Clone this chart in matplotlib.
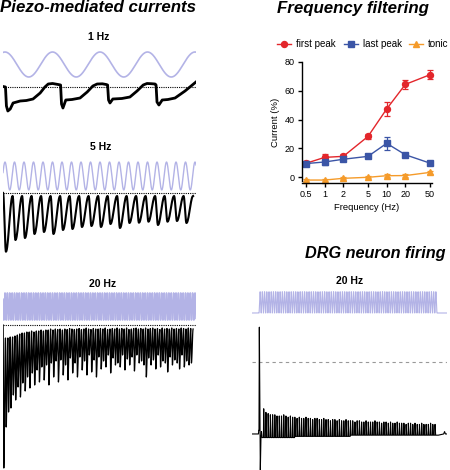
import numpy as np
import matplotlib
matplotlib.use("Agg")
import matplotlib.pyplot as plt
from matplotlib.lines import Line2D

plt.rcParams['font.family'] = ['Liberation Sans', 'DejaVu Sans']

# ---------------- data ----------------
freqs = [0.5, 1, 2, 5, 10, 20, 50]
freq_labels = ['0.5', '1', '2', '5', '10', '20', '50']
first_peak = [9.7, 13.8, 14.5, 28.3, 47.3, 64.3, 71.0]
first_peak_err = [1.5, 2.3, 1.5, 1.8, 5.0, 3.3, 3.0]
last_peak = [9.5, 10.6, 12.5, 14.5, 23.5, 15.6, 9.8]
last_peak_err = [1.5, 2.0, 1.5, 1.0, 4.3, 1.5, 1.0]
tonic = [-1.9, -1.9, -0.7, 0.0, 1.1, 1.2, 3.4]
tonic_err = [0.8, 0.8, 0.8, 0.8, 1.0, 1.0, 1.0]

# 1 Hz current trace (time s, current pA)
hz1_t = [-0.04, 0.01, 0.03, 0.06, 0.11, 0.17, 0.32, 0.45, 0.59, 0.74, 0.84, 0.91,
         1.00, 1.12, 1.17, 1.19, 1.22, 1.28, 1.41, 1.58, 1.73, 1.85, 1.94, 2.05,
         2.13, 2.16, 2.18, 2.21, 2.27, 2.46, 2.63, 2.78, 2.91, 2.99, 3.08, 3.16,
         3.18, 3.20, 3.24, 3.31, 3.43, 3.58, 3.79, 4.02]
hz1_i = [5, 0, -190, -240, -220, -160, -140, -135, -120, -60, 0, 30,
         35, 25, 20, -170, -210, -130, -125, -110, -50, 10, 30, 32,
         25, 20, -130, -160, -120, -115, -100, -40, 20, 35, 33, 30,
         20, -150, -180, -130, -125, -110, -40, 50]

# 5 Hz: per-cycle trough currents (pA)
hz5_min = [-587, -470, -450, -410, -390, -410, -370, -360, -340, -330,
           -340, -310, -350, -300, -297, -287, -320, -287, -280, -300]
hz5_top = [0] + [-30] * 20

# 20 Hz: per-cycle trough and peak currents (pA)
hz20_min = [-1430, -1020, -870, -830, -700, -750, -620, -720, -580, -660,
            -520, -630, -480, -600, -450, -570, -420, -550, -400, -600,
            -380, -520, -360, -570, -350, -500, -400, -550, -330, -480,
            -380, -520, -320, -450, -360, -500, -300, -470, -350, -520,
            -320, -440, -360, -420, -300, -480, -330, -400, -380, -420,
            -300, -450, -340, -400, -320, -460, -300, -380, -360, -400,
            -520, -330, -400, -350, -440, -300, -420, -360, -380, -470,
            -320, -400, -350, -380, -440, -300, -420, -360, -400, -380]
hz20_top = [0, -130, -130, -120, -120, -110, -100, -90, -80, -80, -70,
            -70, -60, -70, -60, -60, -50, -60, -50, -50, -40,
            -50, -40, -45, -40, -50, -40, -45, -35, -40, -45,
            -40, -35, -45, -40, -30, -40, -45, -35, -40, -40,
            -35, -40, -30, -45, -40, -35, -40, -30, -40, -35,
            -40, -30, -45, -40, -35, -30, -40, -35, -40, -30,
            -40, -35, -30, -40, -35, -45, -30, -40, -35, -40,
            -30, -40, -35, -40, -30, -35, -40, -30, -35, -40]

# DRG membrane potential (mV)
drg_rest = -60
drg_ap_peak = 29
drg_ahp = -90
drg_peaks = [-58, -39, -42, -43, -44, -44, -44, -45, -45, -45, -44, -45, -46, -45, -46,
             -46, -47, -46, -47, -47, -46, -47, -47, -48, -47, -47, -48, -48, -47,
             -48, -48, -49, -48, -48, -49, -48, -49, -49, -48, -49, -49, -49, -50,
             -49, -49, -50, -50, -49, -50, -50, -50, -49, -50, -50, -51, -50, -50,
             -51, -50, -51, -51, -50, -51, -51, -51, -52, -51, -51, -52, -51, -52,
             -52, -51, -52, -52, -52, -51, -52, -52, -53]
drg_troughs = [-62] + [-63] * 15 + [-62] * 25 + [-61] * 39

# ---------------- layout helpers ----------------
W, H = 450, 470
fig = plt.figure(figsize=(4.5, 4.7), dpi=100)


def px_axes(x0, y0, x1, y1):
    return fig.add_axes([x0 / W, 1 - y1 / H, (x1 - x0) / W, (y1 - y0) / H])


def blank(ax):
    ax.set_axis_off()


def cycle_wave(t_tops, tops, mins, frac_down, n=16):
    ts, vs = [], []
    s = np.linspace(0, 1, n, endpoint=False)
    e = (1 - np.cos(np.pi * s)) / 2
    for k in range(len(mins)):
        t0, t1 = t_tops[k], t_tops[k + 1]
        tm = t0 + frac_down * (t1 - t0)
        ts.append(t0 + (tm - t0) * s)
        vs.append(tops[k] + (mins[k] - tops[k]) * e)
        ts.append(tm + (t1 - tm) * s)
        vs.append(mins[k] + (tops[k + 1] - mins[k]) * e)
    ts.append([t_tops[-1]])
    vs.append([tops[-1]])
    return np.concatenate(ts), np.concatenate(vs)


STIM = '#b3b3e6'
T0, T1 = -0.042, 4.021   # left traces time window
LX0, LX1 = 3, 196


def stim_axes(y0, y1, freq, lw):
    ax = px_axes(LX0, y0, LX1, y1)
    t = np.linspace(T0, T1, 8000)
    ax.plot(t, np.cos(2 * np.pi * freq * t), color=STIM, lw=lw)
    ax.set_xlim(T0, T1)
    return ax


# ---------------- left: 1 Hz ----------------
fig.text(99 / W, 1 - 37 / H, '1 Hz', ha='center', va='center', fontsize=7.5, fontweight='bold')
a = stim_axes(48, 80, 1, 1.2)
a.set_ylim(-1.24, 1.32)
blank(a)
a = px_axes(LX0, 78, LX1, 116)
a.axhline(0, color='black', lw=0.8, ls=(0, (1, 1)))
a.plot(hz1_t, hz1_i, color='black', lw=2.0, solid_joinstyle='round')
a.set_xlim(T0, T1)
a.set_ylim(-290, 90)
blank(a)

# ---------------- left: 5 Hz ----------------
fig.text(101 / W, 1 - 147 / H, '5 Hz', ha='center', va='center', fontsize=7.5, fontweight='bold')
a = stim_axes(158, 194, 5, 1.0)
a.set_ylim(-1.29, 1.29)
blank(a)
a = px_axes(LX0, 186, LX1, 256)
a.axhline(0, color='black', lw=0.8, ls=(0, (1, 1)))
tt = [-0.04 + 0.2 * k for k in range(len(hz5_min) + 1)]
t5, v5 = cycle_wave(tt, hz5_top, hz5_min, 0.3)
a.plot(t5, v5, color='black', lw=1.5)
a.set_xlim(T0, T1)
a.set_ylim(-630, 70)
blank(a)

# ---------------- left: 20 Hz ----------------
fig.text(103 / W, 1 - 284 / H, '20 Hz', ha='center', va='center', fontsize=7.5, fontweight='bold')
a = stim_axes(292, 321, 20, 1.2)
a.set_ylim(-1.07, 1.07)
blank(a)
a = px_axes(LX0, 322, LX1, 470)
a.axhline(0, color='black', lw=0.8, ls=(0, (1, 1)))
tt = [-0.04 + 0.05 * k for k in range(len(hz20_min) + 1)]
t20, v20 = cycle_wave(tt, hz20_top, hz20_min, 0.3, n=8)
a.plot(t20, v20, color='black', lw=0.9)
a.set_xlim(T0, T1)
a.set_ylim(-1450, 30)
blank(a)

# ---------------- titles ----------------
title_kw = dict(ha='left', va='baseline', fontweight='bold', fontstyle='italic')
fig.text(0 / W, 1 - 12.5 / H, 'Piezo-mediated currents', fontsize=12.2, **title_kw)
fig.text(277 / W, 1 - 12.5 / H, 'Frequency filtering', fontsize=12.2, **title_kw)
fig.text(305 / W, 1 - 258 / H, 'DRG neuron firing', fontsize=11.7, **title_kw)

# ---------------- line chart ----------------
ax = px_axes(301.7, 61.7, 431.7, 183.3)
RED, BLUE, ORANGE = '#e3262b', '#3b55a6', '#f59b2a'
series = [
    (first_peak, first_peak_err, RED, 'o', 'first peak'),
    (last_peak, last_peak_err, BLUE, 's', 'last peak'),
    (tonic, tonic_err, ORANGE, '^', 'tonic'),
]
handles = []
for vals, err, col, mk, lab in series:
    ax.errorbar(freqs, vals, yerr=err, color=col, marker=mk, ms=4.3, lw=1.0,
                capsize=2.2, elinewidth=0.9, capthick=0.9, clip_on=False)
    handles.append(Line2D([], [], color=col, marker=mk, ms=4.3, lw=1.0, label=lab))
ax.set_xscale('log')
ax.set_xlim(0.426, 53.2)
ax.set_ylim(-4.15, 80)
ax.set_xticks(freqs)
ax.set_xticklabels(freq_labels)
ax.minorticks_off()
ax.set_yticks([0, 20, 40, 60, 80])
for sp in ['top', 'right']:
    ax.spines[sp].set_visible(False)
ax.spines['left'].set_bounds(-2.5, 80)
for sp in ['left', 'bottom']:
    ax.spines[sp].set_linewidth(1.0)
ax.tick_params(labelsize=6.5, length=3, width=1.0, pad=2)
ax.set_xlabel('Frequency (Hz)', fontsize=6.8, labelpad=3)
ax.set_ylabel('Current (%)', fontsize=6.8, labelpad=3)
fig.legend(handles=handles, loc='center', bbox_to_anchor=(363 / W, 1 - 44 / H), ncol=3,
           frameon=False, fontsize=7.0, handlelength=1.45, handletextpad=0.5,
           columnspacing=0.8, borderaxespad=0, borderpad=0)

# ---------------- DRG ----------------
DT0, DT1 = -0.157, 4.225
n_pulse = len(drg_troughs)
a = px_axes(252, 289, 447, 315)
ts = np.linspace(DT0, DT1, 8000)
stim = np.where((ts >= 0) & (ts <= 0.05 * n_pulse),
                (1 - np.cos(2 * np.pi * 20 * ts)) / 2, 0.0)
a.plot(ts, stim, color=STIM, lw=0.8)
a.set_xlim(DT0, DT1)
a.set_ylim(-0.094, 1.127)
blank(a)

a = px_axes(252, 320, 447, 472)
a.axhline(0, color='#999999', lw=0.8, ls=(0, (3, 3)))
tv = [DT0, -0.012, -0.006, 0.0, 0.008, 0.03, 0.045]
vv = [drg_rest, drg_rest, drg_rest + 3, drg_rest + 3, drg_ap_peak, drg_ahp, drg_troughs[0]]
for k in range(1, n_pulse):
    t0 = 0.05 * k
    tv += [t0, t0 + 0.006, t0 + 0.02, t0 + 0.05 - 0.001]
    vv += [drg_troughs[k - 1], drg_peaks[k - 1], drg_troughs[k], drg_troughs[k]]
tv += [0.05 * n_pulse + 0.03, 4.15, 4.17, 4.19, DT1]
vv += [drg_rest - 1, drg_rest, drg_rest + 2, drg_rest, drg_rest]
a.plot(tv, vv, color='black', lw=0.8)
a.set_xlim(DT0, DT1)
a.set_ylim(-91.7, 35)
blank(a)

fig.text(350 / W, 1 - 281 / H, '20 Hz', ha='center', va='center', fontsize=7.5, fontweight='bold')

fig.savefig('out.png', dpi=100)
